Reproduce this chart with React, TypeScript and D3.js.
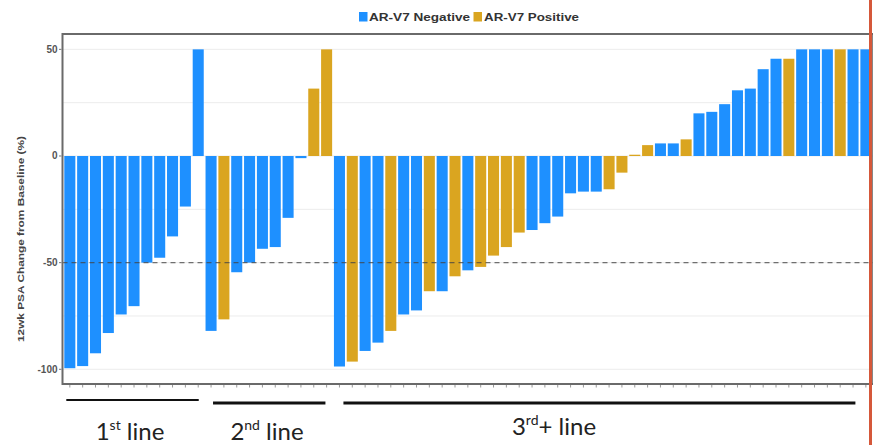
import React from "react";
import * as d3 from "d3";

// ---- Data ----
const psaChange: number[] = [
  // 1st line (11)
  -99.5, -98.5, -92.5, -83, -74.3, -70.4, -50, -47.7, -37.7, -23.7, 50,
  // 2nd line (10)
  -82, -76.6, -54.5, -50, -43.5, -42.7, -29, -1, 31.6, 50,
  // 3rd+ line (42)
  -98.7, -96.4, -91.4, -87.5, -82, -74.3, -72.4, -63.4, -63.4, -56.4,
  -53.6, -52, -46.7, -42.7, -35.9, -34.7, -31.5, -28.4, -17.5, -16.7,
  -16.7, -15.6, -7.8, 0.6, 5.1, 5.9, 5.9, 7.8, 20, 20.7,
  24.3, 30.8, 31.6, 40.7, 45.6, 45.6, 50, 50, 50, 50,
  50, 50,
];
const arV7Status: string[] = [
  "N", "N", "N", "N", "N", "N", "N", "N", "N", "N", "N",
  "N", "P", "N", "N", "N", "N", "N", "N", "P", "P",
  "N", "P", "N", "N", "P", "N", "N", "P", "N", "P",
  "N", "P", "P", "P", "P", "N", "N", "N", "N", "N",
  "N", "P", "P", "P", "P", "N", "N", "P", "N", "N",
  "N", "N", "N", "N", "N", "P", "N", "N", "N", "P",
  "N", "N",
];
const groupNames: string[] = ["1st line", "2nd line", "3rd+ line"];
const groupSizes: number[] = [11, 10, 42];
const yTicks: number[] = [50, 0, -50, -100];
const legendLabels: string[] = ["AR-V7 Negative", "AR-V7 Positive"];

const W = 873;
const H = 445;
const COLORS: Record<string, string> = { N: "#1E90FF", P: "#DAA520" };

export default function App() {
  const left = 62.5;
  const right = 873.2;
  const top = 34;
  const bottom = 384;

  const idx = psaChange.map((_, i) => i);
  const x = d3.scaleBand<number>().domain(idx).range([left, right]).padding(0.14);
  const y = d3.scaleLinear().domain([-106.9, 57.2]).range([bottom, top]);
  const bw = x.bandwidth();
  const grid = d3.range(-100, 51, 25);

  // group spans
  let acc = 0;
  const groups = groupSizes.map((n, g) => {
    const s = acc;
    acc += n;
    return { name: groupNames[g], first: s, last: s + n - 1 };
  });
  const lineInsets = [
    [2, 5, 400, 2],
    [7.5, 6.7, 403, 3],
    [9.5, 16, 403, 3],
  ];
  const labelPos = [
    [130, 440],
    [267, 440],
    [554, 435],
  ];
  const sups = ["st", "nd", "rd"];
  const suffix = [" line", " line", "+ line"];
  const leads = ["1", "2", "3"];

  return (
    <div style={{ position: "fixed", left: 0, top: 0 }}>
      <svg width={W} height={H} style={{ display: "block", background: "#fff" }}>
        {/* legend */}
        <g fontFamily="'Liberation Sans', Arial, sans-serif" fontWeight="bold" fontSize={10} fill="#333">
          <rect x={359} y={12} width={8.5} height={9.5} fill={COLORS.N} />
          <text x={369} y={20.5} textLength={101} lengthAdjust="spacingAndGlyphs">{legendLabels[0]}</text>
          <rect x={473.5} y={12} width={8.5} height={9.5} fill={COLORS.P} />
          <text x={484} y={20.5} textLength={95} lengthAdjust="spacingAndGlyphs">{legendLabels[1]}</text>
        </g>

        {/* grid */}
        {grid.map((v) => (
          <line key={"g" + v} x1={left} x2={right} y1={y(v)} y2={y(v)} stroke="#ececec" strokeWidth={1} />
        ))}

        {/* bars */}
        {psaChange.map((v, i) => (
          <rect
            key={i}
            x={x(i)}
            width={bw}
            y={Math.min(y(v), y(0))}
            height={Math.max(0.8, Math.abs(y(v) - y(0)))}
            fill={COLORS[arV7Status[i]]}
          />
        ))}

        {/* dashed -50 reference */}
        <line x1={left} x2={right} y1={y(-50)} y2={y(-50)} stroke="#444" strokeOpacity={0.75} strokeWidth={1.1} strokeDasharray="5,4" />

        {/* frame */}
        <rect x={left} y={top} width={right - left} height={bottom - top} fill="none" stroke="#6a6a6a" strokeWidth={2} />

        {/* x ticks */}
        {idx.map((i) => (
          <line key={"t" + i} x1={x(i)! + bw / 2} x2={x(i)! + bw / 2} y1={bottom + 1} y2={bottom + 3.5} stroke="#999" strokeWidth={1} />
        ))}

        {/* y axis */}
        <g fontFamily="'Liberation Sans', Arial, sans-serif" fontWeight="bold" fontSize={10} fill="#555">
          {yTicks.map((t) => (
            <g key={"y" + t}>
              <line x1={left - 3.5} x2={left - 1} y1={y(t)} y2={y(t)} stroke="#777" strokeWidth={1} />
              <text x={left - 5} y={y(t) + 3.5} textAnchor="end">{t}</text>
            </g>
          ))}
          <text
            transform={`translate(24, ${(top + bottom) / 2 + 30}) rotate(-90)`}
            textAnchor="middle"
            fontSize={9.5}
            fill="#444"
            textLength={206}
            lengthAdjust="spacingAndGlyphs"
          >
            12wk PSA Change from Baseline (%)
          </text>
        </g>

        {/* group annotations */}
        {groups.map((g, k) => (
          <line
            key={"l" + k}
            x1={x(g.first)! + lineInsets[k][0]}
            x2={x(g.last)! + bw - lineInsets[k][1]}
            y1={lineInsets[k][2]}
            y2={lineInsets[k][2]}
            stroke="#111"
            strokeWidth={lineInsets[k][3]}
          />
        ))}
        <g fontFamily="Lato, 'Open Sans', sans-serif" fontSize={24} fill="#222">
          {groups.map((g, k) => (
            <text key={"lab" + k} x={labelPos[k][0]} y={labelPos[k][1]} textAnchor="middle">
              {leads[k]}
              <tspan fontSize={14} dy={-10}>{sups[k]}</tspan>
              <tspan dy={10}>{suffix[k]}</tspan>
            </text>
          ))}
        </g>

        {/* red edge */}
        <line x1={870.5} x2={870.5} y1={0} y2={H} stroke="#D5583A" strokeWidth={3} />
      </svg>
    </div>
  );
}
